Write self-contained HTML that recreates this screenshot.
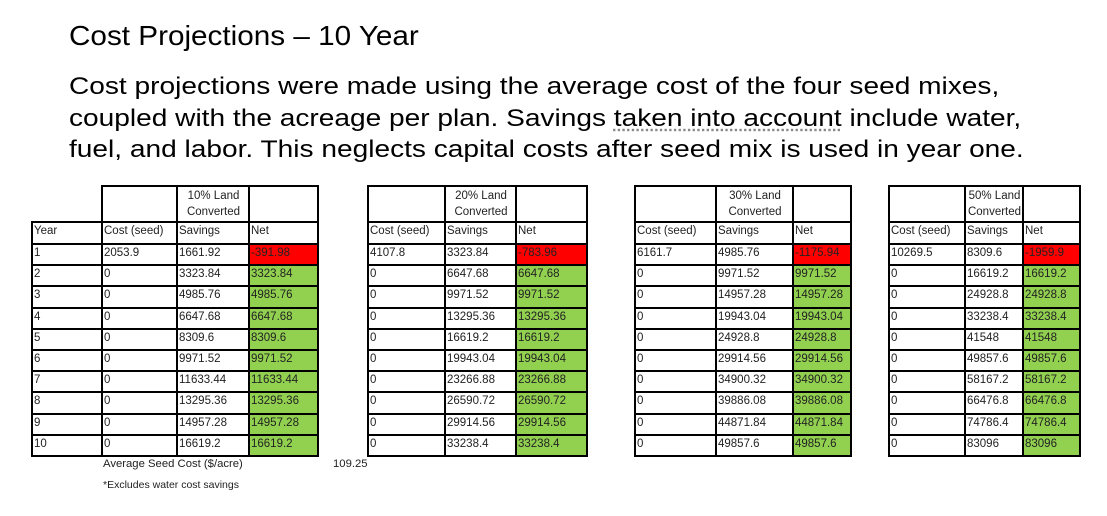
<!DOCTYPE html>
<html><head><meta charset="utf-8">
<style>
body{margin:0;width:1107px;height:516px;background:#fff;position:relative;overflow:hidden;font-family:"Liberation Sans",sans-serif;color:#000}
#title{position:absolute;left:69px;top:20px;font-size:28px;white-space:nowrap;transform:scaleX(1.06);transform-origin:0 0}
#para{position:absolute;left:69px;top:71px;font-size:24px;line-height:31.5px;white-space:nowrap;transform:scaleX(1.17);transform-origin:0 0}
.ul{text-decoration:underline dotted #888;text-underline-offset:4px}
.cell{position:absolute;box-sizing:border-box;border:2px solid #000;font-size:11.5px;padding:1px 0 0 1px;line-height:14px;color:#222;white-space:nowrap;overflow:hidden}
.red{background:#ff0000}.green{background:#92d050}
.note{position:absolute;font-size:11.3px;color:#222;white-space:nowrap}
</style></head><body>
<div id="title">Cost Projections – 10 Year</div>
<div id="para">Cost projections were made using the average cost of the four seed mixes,<br>coupled with the acreage per plan. Savings <span class="ul">taken into account</span> include water,<br>fuel, and labor. This neglects capital costs after seed mix is used in year one.</div>
<div class="note" style="left:103px;top:458px">Average Seed Cost ($/acre)</div>
<div class="note" style="left:333px;top:458px">109.25</div>
<div class="note" style="left:103px;top:479px;font-size:10.5px">*Excludes water cost savings</div>
<script>
const years=["1","2","3","4","5","6","7","8","9","10"];
const titles=["10% Land","20% Land","30% Land","50% Land"];
const costs=[["2053.9","0","0","0","0","0","0","0","0","0"],["4107.8","0","0","0","0","0","0","0","0","0"],["6161.7","0","0","0","0","0","0","0","0","0"],["10269.5","0","0","0","0","0","0","0","0","0"]];
const savings=[
["1661.92","3323.84","4985.76","6647.68","8309.6","9971.52","11633.44","13295.36","14957.28","16619.2"],
["3323.84","6647.68","9971.52","13295.36","16619.2","19943.04","23266.88","26590.72","29914.56","33238.4"],
["4985.76","9971.52","14957.28","19943.04","24928.8","29914.56","34900.32","39886.08","44871.84","49857.6"],
["8309.6","16619.2","24928.8","33238.4","41548","49857.6","58167.2","66476.8","74786.4","83096"]];
const nets=[
["-391.98","3323.84","4985.76","6647.68","8309.6","9971.52","11633.44","13295.36","14957.28","16619.2"],
["-783.96","6647.68","9971.52","13295.36","16619.2","19943.04","23266.88","26590.72","29914.56","33238.4"],
["-1175.94","9971.52","14957.28","19943.04","24928.8","29914.56","34900.32","39886.08","44871.84","49857.6"],
["-1959.9","16619.2","24928.8","33238.4","41548","49857.6","58167.2","66476.8","74786.4","83096"]];
const colX=[[32,102,177,249,318],[368,445,516,587],[635,716,793,851],[889,965,1023,1080]];
const top0=186,hdrB=222,rowT=244,rowH=21.2;
function cell(x,y,w,h,txt,cls,name){
  const d=document.createElement('div');
  d.className='cell '+(cls||'');
  d.style.left=(x-1)+'px';d.style.top=(y-1)+'px';d.style.width=(w+2)+'px';d.style.height=(h+2)+'px';
  d.innerHTML=txt;
  
  
  document.body.appendChild(d);
}
for(let t=0;t<4;t++){
  const cx=colX[t];
  const hasYear=t===0;
  const off=hasYear?1:0;
  const hc=cx.length-1;
  for(let c=off;c<hc;c++){
    const txt=(c===off+1)?'<div style="text-align:center;line-height:16px">'+titles[t]+'<br>Converted</div>':'';
    cell(cx[c],top0,cx[c+1]-cx[c],hdrB-top0,txt,'','table-'+(t+1)+'-header-cell');
  }
  const heads=hasYear?["Year","Cost (seed)","Savings","Net"]:["Cost (seed)","Savings","Net"];
  for(let c=0;c<hc;c++){
    cell(cx[c],hdrB,cx[c+1]-cx[c],rowT-hdrB,heads[c],'','table-'+(t+1)+'-column-header');
  }
  for(let r=0;r<years.length;r++){
    const y=rowT+r*rowH;
    const vals=hasYear?[years[r],costs[t][r],savings[t][r],nets[t][r]]:[costs[t][r],savings[t][r],nets[t][r]];
    for(let c=0;c<hc;c++){
      const isNet=c===hc-1;
      const cls=isNet?(parseFloat(nets[t][r])<0?'red':'green'):'';
      cell(cx[c],y,cx[c+1]-cx[c],rowH,vals[c],cls,'table-'+(t+1)+'-cell');
    }
  }
}
</script>
</body></html>
